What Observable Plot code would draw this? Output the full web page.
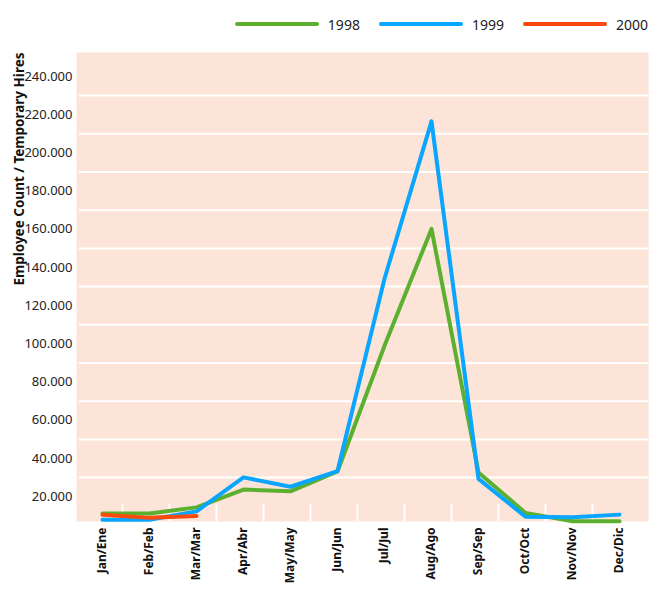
<!DOCTYPE html>
<html>
<head>
<meta charset="utf-8">
<script src="https://cdn.jsdelivr.net/npm/d3@7"></script>
<script src="https://cdn.jsdelivr.net/npm/@observablehq/plot@0.6"></script>
<style>
  body { margin: 0; background: #fff; font-family: "Noto Sans", sans-serif; }
  #legend { height: 40px; width: 651px; display: flex; justify-content: flex-end; align-items: center; box-sizing: border-box; padding-right: 3px; padding-top: 8px; }
  .item { display: flex; align-items: center; margin-left: 18px; font-size: 14px; color: #222; }
  .item svg { margin-right: 8px; }
</style>
</head>
<body>
<div id="legend"></div>
<div id="chart"></div>
<script>
// datos
const months = ['Jan/Ene', 'Feb/Feb', 'Mar/Mar', 'Apr/Abr', 'May/May', 'Jun/Jun',
  'Jul/Jul', 'Aug/Ago', 'Sep/Sep', 'Oct/Oct', 'Nov/Nov', 'Dec/Dic']
const years = ['1998', '1999', '2000']
const colors = ['#5bb12f', '#0aa5ff', '#fc4a0c']
const v1998 = [11200, 11200, 14400, 23700, 22800, 33200, 99000, 160200, 32700, 11500, 7100, 7100]
const v1999 = [7900, 7900, 12300, 30100, 25200, 33400, 134100, 216500, 29300, 9500, 9200, 10600]
const v2000 = [10500, 8900, 9900]
const yTicks = [20000, 40000, 60000, 80000, 100000, 120000, 140000, 160000, 180000, 200000, 220000, 240000]
const yLabel = 'Employee Count / Temporary Hires'

const series = [v1998, v1999, v2000]
const data = series.flatMap((vals, i) => vals.map((v, j) => ({ month: months[j], year: years[i], value: v })))

// separador de miles con punto
const fmt = d3.formatLocale({ decimal: ',', thousands: '.', grouping: [3], currency: ['', ''] }).format(',d')
// lineas de la grilla entre los ticks
const grid = yTicks.slice(0, -1).map((t, i) => (t + yTicks[i + 1]) / 2)

// leyenda
const legend = d3.select('#legend')
years.forEach((y, i) => {
  const it = legend.append('div').attr('class', 'item')
  const s = it.append('svg').attr('width', 86).attr('height', 8)
  s.append('line').attr('x1', 3).attr('x2', 83).attr('y1', 4).attr('y2', 4)
    .attr('stroke', colors[i]).attr('stroke-width', 4).attr('stroke-linecap', 'round')
  it.append('span').text(y)
})

const step = 568 / 11.84

let chart = Plot.plot({
  width: 651,
  height: 549,
  marginTop: 12,
  marginBottom: 68,
  marginLeft: 76,
  marginRight: 3,
  style: { fontFamily: '"Noto Sans", sans-serif', background: 'white' },
  x: { type: 'point', domain: months, padding: 0.42, insetRight: 4, label: null },
  y: { domain: [7000, 252565], label: null },
  color: { domain: years, range: colors },
  marks: [
    Plot.frame({ fill: '#fde4d9', stroke: null }),
    Plot.ruleY(grid, { stroke: 'white', strokeWidth: 2, insetLeft: 3 }),
    Plot.ruleX(months.slice(0, -1), { dx: step / 2 - 4, insetTop: 469 - 17, stroke: 'white', strokeWidth: 2 }),
    Plot.axisY({ ticks: yTicks, tickFormat: fmt, tickSize: 0, tickPadding: 4, fontSize: 13, fill: '#222', label: null }),
    Plot.axisX({ tickRotate: -90, tickSize: 0, tickPadding: 6, fontSize: 12, fontWeight: 'bold', fill: '#111', label: null }),
    Plot.text([yLabel], { frameAnchor: 'top-left', rotate: -90, textAnchor: 'end', dx: -62, dy: 0,
      fontSize: 13.5, fontWeight: 'bold', fill: '#111' }),
    Plot.line(data, { x: 'month', y: 'value', z: 'year', stroke: 'year', strokeWidth: 4, strokeLinejoin: 'round' })
  ]
})

d3.select('#chart').append(() => chart)
</script>
</body>
</html>
